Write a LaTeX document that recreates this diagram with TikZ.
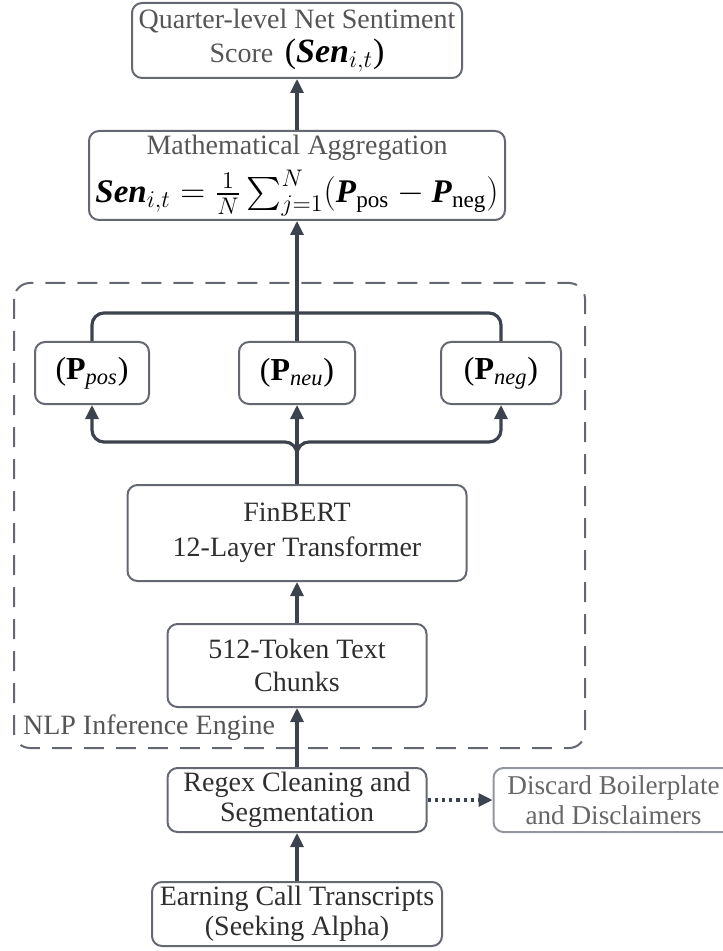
\documentclass[tikz,border=0pt]{standalone}
\usepackage{amsmath,amssymb}
\usepackage{fontspec}
\setmainfont{Liberation Serif}
\usepackage{xcolor}
\usepackage{tikz}
\usetikzlibrary{positioning,arrows.meta}
\definecolor{boxline}{HTML}{646870}
\definecolor{arrowcol}{HTML}{3C434E}
\definecolor{labeltext}{HTML}{555555}
\definecolor{bodytext}{HTML}{2E2E2E}
\newcommand{\senvar}{\textbf{\textit{Sen}}}
\newcommand{\pvar}[1]{\textbf{P}$_{\textit{#1}}$}

\begin{document}
\begin{tikzpicture}[x=0.5pt,y=-0.5pt,>={Triangle[length=7pt,width=6.5pt]},
                    box/.style={draw=boxline, line width=1pt, rounded corners=5pt, align=center,
                                inner sep=0pt, text=bodytext, font=\fontsize{14}{15}\selectfont},
                    flow/.style={draw=arrowcol, line width=1.6pt, rounded corners=6pt},
                    group/.style={draw=boxline, line width=1pt, rounded corners=8pt, dash pattern=on 10pt off 6pt}]
\useasboundingbox (0,0) rectangle (722,951);
\draw[group] (14,283) rectangle (585,748);
\node[anchor=west, text=labeltext, font=\fontsize{14}{15}\selectfont] (enginelabel) at (16,728) {NLP Inference Engine};
\node[box, minimum width=145pt, minimum height=32pt] (transcripts) at (297,914) {Earning Call Transcripts\\(Seeking Alpha)};
\node[box, minimum width=129.5pt, minimum height=32pt, above=24pt of transcripts] (regex) {Regex Cleaning and\\Segmentation};
\node[box, draw=boxline!70, text=labeltext!90, font=\fontsize{13.6}{15}\selectfont, minimum width=120pt, minimum height=32pt, right=32.5pt of regex] (discard) {Discard Boilerplate\\and Disclaimers};
\node[box, minimum width=129.5pt, minimum height=41.5pt, above=29.5pt of regex] (chunks) {512-Token Text\\[1.5pt]Chunks};
\node[box, minimum width=169.5pt, minimum height=48pt, above=20.5pt of chunks] (finbert) {FinBERT\\[2.5pt]12-Layer Transformer};
\node[box, text=black, font=\fontsize{16}{18}\selectfont, minimum width=58pt, minimum height=31pt, above=39.5pt of finbert] (neu) {(\pvar{neu})};
\node[box, text=black, font=\fontsize{16}{18}\selectfont, minimum width=57pt, minimum height=31pt, left=44pt of neu] (pos) {(\pvar{pos})};
\node[box, text=black, font=\fontsize{16}{18}\selectfont, minimum width=60pt, minimum height=31pt, right=42pt of neu] (neg) {(\pvar{neg})};
\node[box, text=labeltext, minimum width=208pt, minimum height=44.5pt, above=60pt of neu] (aggregation)
     {Mathematical Aggregation\\[4pt]{\color{black}\fontsize{16.5}{18}\selectfont\senvar$_{i,t}=\tfrac{1}{N}\sum_{j=1}^{N}(\textbf{\textit{P}}_{\text{pos}}-\textbf{\textit{P}}_{\text{neg}})$}};
\node[box, text=labeltext, minimum width=165pt, minimum height=37.5pt, above=25.5pt of aggregation] (score)
     {Quarter-level Net Sentiment\\[2pt]Score\, {\color{black}\fontsize{17}{17}\selectfont(\senvar$_{i,t}$)}};
\coordinate[above=21pt of finbert.north] (split);
\coordinate[above=14pt of neu.north] (merge);
\draw[flow,->] (transcripts) -- (regex);
\draw[flow,->] (regex) -- (chunks);
\draw[flow,->] (chunks) -- (finbert);
\draw[flow,->] (finbert) -- (split) -| (pos.south);
\draw[flow,->] (finbert) -- (split) -| (neg.south);
\draw[flow,->] (finbert) -- (neu);
\draw[flow] (pos.north) |- (merge);
\draw[flow] (neg.north) |- (merge);
\draw[flow,->] (neu) -- (aggregation);
\draw[flow,->] (aggregation) -- (score);
\draw[flow,dotted,->] (regex) -- (discard);
\end{tikzpicture}
\end{document}
